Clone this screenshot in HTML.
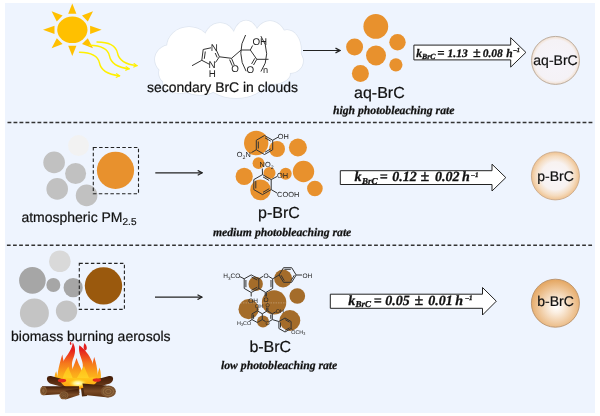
<!DOCTYPE html>
<html><head><meta charset="utf-8">
<style>
html,body{margin:0;padding:0;background:#fff;}
body{width:600px;height:416px;overflow:hidden;position:relative;font-family:"Liberation Sans",sans-serif;}
svg{position:absolute;left:0;top:0;text-rendering:geometricPrecision;will-change:transform;}
.s{font-family:"Liberation Sans",sans-serif;fill:#111;stroke:#111;stroke-width:0.2;}
.bi{font-family:"Liberation Serif",serif;font-weight:bold;font-style:italic;fill:#111;stroke:#111;stroke-width:0.25;}
.bk{font-family:"Liberation Serif",serif;font-weight:bold;font-style:italic;fill:#111;stroke:#111;stroke-width:0.3;}
.ch{font-family:"Liberation Sans",sans-serif;fill:#222;}
.bond{stroke:#333;stroke-width:1;fill:none;}
</style></head>
<body>
<svg width="600" height="416" viewBox="0 0 600 416">
<defs>
<radialGradient id="g1" cx="50%" cy="50%" r="50%">
<stop offset="0" stop-color="#f6f4fa"/><stop offset="0.86" stop-color="#f5f2f6"/><stop offset="0.95" stop-color="#f3e6dc"/><stop offset="1" stop-color="#ecd5c2"/>
</radialGradient>
<radialGradient id="g2" cx="50%" cy="50%" r="50%">
<stop offset="0" stop-color="#f8f6fb"/><stop offset="0.58" stop-color="#f8f2f0"/><stop offset="0.82" stop-color="#f5dcc0"/><stop offset="1" stop-color="#efc290"/>
</radialGradient>
<radialGradient id="g3" cx="52%" cy="57%" r="55%">
<stop offset="0" stop-color="#ffffff"/><stop offset="0.25" stop-color="#fbeee0"/><stop offset="1" stop-color="#e5a864"/>
</radialGradient>
<linearGradient id="flame3" x1="0" y1="0" x2="0" y2="1">
<stop offset="0" stop-color="#ffc81a"/><stop offset="1" stop-color="#ff9a10"/>
</linearGradient>
<radialGradient id="glow" cx="50%" cy="50%" r="50%">
<stop offset="0" stop-color="#fffce0"/><stop offset="0.45" stop-color="#fff07a"/><stop offset="1" stop-color="#ffd21a" stop-opacity="0"/>
</radialGradient>
<linearGradient id="flame" gradientUnits="userSpaceOnUse" x1="0" y1="386" x2="0" y2="342">
<stop offset="0" stop-color="#ffd21a"/><stop offset="0.28" stop-color="#fba81a"/><stop offset="0.52" stop-color="#f5771c"/><stop offset="0.68" stop-color="#ee461e"/><stop offset="0.82" stop-color="#e4201e"/><stop offset="1" stop-color="#e01c1c"/>
</linearGradient>
<linearGradient id="logd" x1="0" y1="0" x2="0" y2="1">
<stop offset="0" stop-color="#3e1a06"/><stop offset="0.6" stop-color="#5e3014"/><stop offset="1" stop-color="#6e3e1e"/>
</linearGradient>
<linearGradient id="logf" x1="0" y1="0" x2="0" y2="1">
<stop offset="0" stop-color="#3e1a06"/><stop offset="0.55" stop-color="#7a4a26"/><stop offset="1" stop-color="#5a3010"/>
</linearGradient>
<linearGradient id="flame2" gradientUnits="userSpaceOnUse" x1="0" y1="386" x2="0" y2="360">
<stop offset="0" stop-color="#ffe030"/><stop offset="0.6" stop-color="#ffc21a"/><stop offset="1" stop-color="#fca01a"/>
</linearGradient>
<filter id="cblur" x="-10%" y="-10%" width="120%" height="120%"><feGaussianBlur stdDeviation="0.7"/></filter>
<marker id="ah" viewBox="0 0 10 10" refX="9" refY="5" markerWidth="6" markerHeight="6.4" orient="auto" markerUnits="userSpaceOnUse">
<path d="M1.5,1 L9,5 L1.5,9" fill="none" stroke="#222" stroke-width="2"/>
</marker>
<marker id="yh" viewBox="0 0 10 10" refX="8" refY="5" markerWidth="5" markerHeight="5" orient="auto" markerUnits="userSpaceOnUse">
<path d="M1,1 L8,5 L1,9" fill="none" stroke="#fff000" stroke-width="2.2"/>
</marker>
</defs>

<!-- background panel -->
<rect x="5" y="3" width="590" height="410" fill="#eef4fe"/>

<!-- dashed separators -->
<line x1="7.5" y1="122.5" x2="593" y2="122.5" stroke="#333" stroke-width="1.5" stroke-dasharray="3.85 2.14"/>
<line x1="6.9" y1="245.25" x2="593" y2="245.25" stroke="#333" stroke-width="1.5" stroke-dasharray="3.75 2.37"/>

<!-- ============ SECTION 1 ============ -->
<!-- sun -->
<g fill="#ffc000">
<ellipse cx="72.35" cy="29.8" rx="15.15" ry="13.2"/>
<polygon points="72.3,3.6 76.4,13.8 68.2,13.8"/>
<polygon points="93.0,11.3 87.8,21.4 82.0,15.6"/>
<polygon points="101.6,29.8 90.1,33.9 90.1,25.7"/>
<polygon points="93.0,48.3 82.0,44.0 87.8,38.2"/>
<polygon points="72.3,56.0 68.2,45.8 76.4,45.8"/>
<polygon points="51.6,48.3 56.8,38.2 62.6,44.0"/>
<polygon points="43.0,29.8 54.5,25.7 54.5,33.9"/>
<polygon points="51.6,11.3 62.6,15.6 56.8,21.4"/>
</g>
<!-- light waves -->
<g fill="none" stroke="#fff000" stroke-width="1.4" stroke-linecap="round">
<path d="M97,42 C110,42 116,46 117.5,53 C119,61 126,64.5 137,65.6" marker-end="url(#yh)"/>
<path d="M89.5,45.3 C102,45.5 108,49 109.5,56 C111,64 118,67.5 129,68.8" marker-end="url(#yh)"/>
<path d="M79.5,52.3 C92,52.5 98,56 99.5,63 C101,71 108,74.5 119.5,75.8" marker-end="url(#yh)"/>
</g>

<!-- cloud -->
<g id="cloud">
<g fill="#dfe6f0" stroke="#dfe6f0" stroke-width="1.6" filter="url(#cblur)">
<ellipse cx="189" cy="47" rx="22" ry="20"/>
<ellipse cx="220" cy="44" rx="17" ry="21"/>
<ellipse cx="246" cy="43" rx="14" ry="22.5"/>
<ellipse cx="270" cy="43" rx="17" ry="22"/>
<ellipse cx="287" cy="50" rx="14" ry="20"/>
<ellipse cx="170.5" cy="59.5" rx="15.5" ry="14.5"/>
<ellipse cx="290" cy="61" rx="13" ry="12"/>
<ellipse cx="173.5" cy="73" rx="14.5" ry="12.5"/>
<ellipse cx="200" cy="80" rx="22" ry="15"/>
<ellipse cx="180" cy="83" rx="17" ry="10"/>
<ellipse cx="236" cy="80" rx="30" ry="18"/>
<ellipse cx="272" cy="74" rx="18" ry="10"/>
</g>
<g fill="#fff">
<ellipse cx="189" cy="47" rx="22" ry="20"/>
<ellipse cx="220" cy="44" rx="17" ry="21"/>
<ellipse cx="246" cy="43" rx="14" ry="22.5"/>
<ellipse cx="270" cy="43" rx="17" ry="22"/>
<ellipse cx="287" cy="50" rx="14" ry="20"/>
<ellipse cx="170.5" cy="59.5" rx="15.5" ry="14.5"/>
<ellipse cx="290" cy="61" rx="13" ry="12"/>
<ellipse cx="173.5" cy="73" rx="14.5" ry="12.5"/>
<ellipse cx="200" cy="80" rx="22" ry="15"/>
<ellipse cx="180" cy="83" rx="17" ry="10"/>
<ellipse cx="236" cy="80" rx="30" ry="18"/>
<ellipse cx="272" cy="74" rx="18" ry="10"/>
<ellipse cx="232" cy="60" rx="58" ry="24"/>
</g>
</g>

<!-- structure 1 -->
<g class="bond" stroke-width="1.1" stroke="#2a2a2a">
<path d="M203.2,49.5 L201.8,60.3"/>
<path d="M205.3,51.5 L204.3,58.8"/>
<path d="M203.2,49.5 L211,47.8"/>
<path d="M216.5,50.5 L219.4,56.8"/>
<path d="M215.2,53 L217.2,57.5"/>
<path d="M219.4,56.8 L215.5,62.5"/>
<path d="M201.8,60.3 L209.5,64.3"/>
<path d="M201.8,60.3 L192,65.7"/>
<path d="M219.4,56.8 L231.5,58.3 L241.1,50 L250.3,50 L256.8,59.3 L268.5,59.3"/>
<path d="M231.5,58.3 L234.3,65"/>
<path d="M229.6,59.6 L232.3,65.8"/>
<path d="M250.3,50 L252.6,45.5"/>
<path d="M256.8,59.3 L253.5,65"/>
<path d="M254.8,58.3 L251.6,63.9"/>
<path d="M245.6,35 A35 35 0 0 0 246.1,71.2"/>
<path d="M260.9,36.1 A30 30 0 0 1 260.9,71.5"/>
</g>
<g class="ch" font-size="9.8">
<text x="210.8" y="51">N</text>
<text x="208.6" y="68.4">N</text>
<text x="208.7" y="76.6">H</text>
<text x="231.3" y="72.1">O</text>
<text x="246.6" y="72.6">O</text>
<text x="252.5" y="44.6">OH</text>
<text x="262.9" y="72.6" font-size="9.2">n</text>
</g>

<text class="s" x="147" y="92.1" font-size="14" textLength="151" lengthAdjust="spacingAndGlyphs">secondary BrC in clouds</text>

<!-- arrow 1 -->
<line x1="303" y1="50.5" x2="340" y2="50.5" stroke="#222" stroke-width="1.2" marker-end="url(#ah)"/>

<!-- aq orange particles -->
<g fill="#e8912d">
<circle cx="375.8" cy="26.4" r="12.4"/>
<circle cx="354.6" cy="47" r="8.5"/>
<circle cx="376" cy="55.5" r="10"/>
<circle cx="397.5" cy="42.3" r="8.2"/>
<circle cx="395.9" cy="64.8" r="6.6"/>
<circle cx="360.4" cy="73.5" r="8.5"/>
</g>
<text class="s" x="354" y="97.6" font-size="16">aq-BrC</text>
<text class="bi" x="333" y="113.5" font-size="11.7">high photobleaching rate</text>

<!-- k arrow 1 -->
<path d="M413.9,45.1 L510.7,45.1 L510.7,37.7 L525.9,52.4 L510.7,67.1 L510.7,59.9 L413.9,59.9 Z" fill="#fff" stroke="#222" stroke-width="1"/>
<text class="bk" x="416.2" y="56.7" font-size="11.5">k</text>
<text class="bk" x="422.1" y="58.9" font-size="7.8">BrC</text>
<text class="bk" x="437.3" y="56.7" font-size="12.8">=</text>
<text class="bk" x="447.5" y="56.7" font-size="11.5">1.13</text>
<text class="bk" x="473" y="56.9" font-size="14" stroke-width="0.45">±</text>
<text class="bk" x="482.7" y="56.7" font-size="11.5">0.08</text>
<text class="bk" x="506.3" y="56.7" font-size="11.5">h</text>
<text class="bk" x="513.6" y="52.3" font-size="6.3">–</text>
<text class="bk" x="516.8" y="52.3" font-size="6.3">1</text>

<!-- aq-BrC circle -->
<circle cx="555.5" cy="60.4" r="24" fill="url(#g1)" stroke="#b8a898" stroke-width="0.9"/>
<text class="s" x="555.5" y="65.4" font-size="14" stroke-width="0.35" text-anchor="middle">aq-BrC</text>

<!-- ============ SECTION 2 ============ -->
<g>
<circle cx="78.5" cy="145.6" r="10.5" fill="#f2f2f2"/>
<circle cx="54.1" cy="162.4" r="10.8" fill="#c1c1c1"/>
<circle cx="75.6" cy="173.5" r="10.5" fill="#c1c1c1"/>
<circle cx="57.2" cy="188.9" r="10.8" fill="#c1c1c1"/>
<circle cx="86.6" cy="195.4" r="10.8" fill="#c1c1c1"/>
<circle cx="115.5" cy="170.3" r="18.6" fill="#e8912d"/>
<rect x="93.3" y="147.5" width="45.2" height="46.2" fill="none" stroke="#222" stroke-width="1.1" stroke-dasharray="3.5 2.3"/>
</g>
<text class="s" x="21.4" y="221.8" font-size="14">atmospheric PM<tspan font-size="10" dy="3">2.5</tspan></text>

<line x1="155.3" y1="172.8" x2="202.2" y2="172.8" stroke="#222" stroke-width="1.2" marker-end="url(#ah)"/>

<!-- p orange particles -->
<g fill="#e8912d">
<circle cx="256.2" cy="143" r="12.2"/>
<circle cx="277" cy="149" r="8"/>
<circle cx="297.9" cy="147.5" r="9"/>
<circle cx="258.5" cy="163.2" r="5.9"/>
<circle cx="269.5" cy="173" r="6"/>
<circle cx="285.7" cy="173.7" r="6"/>
<circle cx="244.2" cy="176.4" r="8.6"/>
<circle cx="303.5" cy="171.5" r="10.7"/>
<circle cx="260.5" cy="189.9" r="10.3"/>
<circle cx="314.9" cy="188.5" r="7.8"/>
</g>
<!-- structure 2 -->
<g class="bond">
<path d="M264.5,135.5 L272.7,140.25 L272.7,149.75 L264.5,154.5 L256.3,149.75 L256.3,140.25 Z"/>
<path d="M258.3,141.5 L258.3,148.5 M265,137.8 L270.7,141.1 M270.7,148.9 L265,152.2"/>
<path d="M272.7,140.25 L278,137.2"/>
<path d="M256.3,149.75 L251.5,152.5"/>
<path d="M262.5,174.6 L271.2,179.6 L271.2,189.6 L262.5,194.6 L253.8,189.6 L253.8,179.6 Z"/>
<path d="M255.8,180.8 L255.8,188.4 M263,176.9 L269.2,180.5 M269.2,188.7 L263,192.3"/>
<path d="M262.5,174.6 L262.3,168.5"/>
<path d="M271.2,179.6 L277,176.5"/>
<path d="M271.2,189.6 L277,193"/>
</g>
<g class="ch" font-size="7.4">
<text x="277.7" y="138.7">OH</text>
<text x="236.8" y="157.2">O<tspan font-size="5.2" dy="1.8">2</tspan><tspan dy="-1.8">N</tspan></text>
<text x="259.6" y="167.3">NO<tspan font-size="5.2" dy="1.8">2</tspan></text>
<text x="277.1" y="177.6">OH</text>
<text x="277.1" y="197.4">COOH</text>
</g>
<text class="s" x="258" y="218.3" font-size="16">p-BrC</text>
<text class="bi" x="213" y="235.6" font-size="11.7">medium photobleaching rate</text>

<!-- k arrow 2 -->
<path d="M340.3,170.7 L492,170.7 L492,164.2 L505.8,177.6 L492,191 L492,184.5 L340.3,184.5 Z" fill="#fff" stroke="#222" stroke-width="1"/>
<text class="bk" x="354.5" y="181.3" font-size="14">k</text>
<text class="bk" x="361.9" y="183.8" font-size="9">BrC</text>
<text class="bk" x="379.8" y="181.3" font-size="14">=</text>
<text class="bk" x="392.2" y="181.3" font-size="14">0.12</text>
<text class="bk" x="420.6" y="181.3" font-size="16" stroke-width="0.45">±</text>
<text class="bk" x="435" y="181.3" font-size="14">0.02</text>
<text class="bk" x="462" y="181.3" font-size="14">h</text>
<text class="bk" x="471.3" y="176.7" font-size="7">–</text>
<text class="bk" x="475" y="176.7" font-size="7">1</text>

<circle cx="555.4" cy="175.9" r="24" fill="url(#g2)" stroke="#c9a888" stroke-width="0.9"/>
<text class="s" x="555.6" y="181.2" font-size="14" stroke-width="0.35" text-anchor="middle">p-BrC</text>

<!-- ============ SECTION 3 ============ -->
<g>
<circle cx="59.85" cy="261.25" r="10.8" fill="#d9d9d9"/>
<circle cx="32.4" cy="280.4" r="13.3" fill="#a6a6a6"/>
<circle cx="53.35" cy="285.05" r="7" fill="#a6a6a6"/>
<circle cx="73.15" cy="287.65" r="9.6" fill="#a6a6a6"/>
<circle cx="34.4" cy="313" r="14.5" fill="#c4c4c4"/>
<circle cx="66.55" cy="311.1" r="10.7" fill="#c4c4c4"/>
<circle cx="103.5" cy="285.85" r="18.7" fill="#9a590d"/>
<rect x="79.3" y="263.4" width="45.1" height="46" fill="none" stroke="#222" stroke-width="1.1" stroke-dasharray="3.5 2.3"/>
</g>
<text class="s" x="11" y="340.9" font-size="14">biomass burning aerosols</text>

<line x1="155" y1="297.2" x2="202" y2="297.2" stroke="#222" stroke-width="1.2" marker-end="url(#ah)"/>

<!-- b brown particles -->
<g fill="#9a590d" fill-opacity="0.88">
<circle cx="283.1" cy="278.5" r="9"/>
<circle cx="255.7" cy="283.9" r="7.2"/>
<circle cx="274.1" cy="302.4" r="12.2"/>
<circle cx="297.3" cy="296" r="7.85"/>
<circle cx="248.6" cy="309.2" r="10.1"/>
<circle cx="263" cy="321.4" r="6"/>
<circle cx="289.9" cy="320.5" r="10.4"/>
</g>
<!-- structure 3 -->
<g class="bond" stroke-width="0.75">
<path d="M251.2,274.9 L258.8,278.8 L258.8,288.4 L251.2,292.5 L244.2,288.4 L244.2,278.8 Z"/>
<path d="M245.9,280 L245.9,287.2 M251.5,277 L257.2,280 M257.2,287.2 L251.5,290.3"/>
<path d="M258.8,278.8 L263.3,276.2 M268.3,276.2 L272.7,278.8 L272.7,288.4 L265.8,292.5 L258.8,288.4"/>
<path d="M271,280 L271,287.2"/>
<path d="M265.2,292.5 L265.2,296.5 M266.4,292.5 L266.4,296.5"/>
<path d="M272.7,278.8 L279.1,275"/>
<path d="M279.1,275 L283.5,267.7 L291.7,267.7 L296.2,275 L291.7,282.3 L283.5,282.3 Z"/>
<path d="M284.4,269.3 L290.8,269.3 M281,275.2 L284.3,280.7 M294.3,275.2 L291,280.7"/>
<path d="M296.2,275 L302,275"/>
<path d="M244.2,278.8 L239.8,276.6"/>
<path d="M251.2,292.5 L251.2,296.5"/>
<path d="M252,313.8 L257.3,310.8 L262.3,313.8 L262.3,319.6 L257.3,322.5 L252,319.6 Z"/>
<path d="M253.6,314.6 L253.6,318.8"/>
<path d="M262.3,313.8 L267.3,310.8 L272.3,313.8 L272.3,319.6 L269,321.6 M265.6,321.6 L262.3,319.6"/>
<path d="M270.8,314.6 L270.8,318.8"/>
<path d="M257.3,310.8 L257.3,308"/>
<path d="M266.7,310.8 L266.7,307.5 M267.9,310.8 L267.9,307.5"/>
<path d="M272.3,313.8 L275.8,311.8"/>
<path d="M252,319.6 L249.5,321"/>
<path d="M272.3,319.6 L278.9,321.5"/>
<path d="M285,318 L291.1,321.5 L291.1,328.5 L285,332 L278.9,328.5 L278.9,321.5 Z"/>
<path d="M280.5,322.5 L280.5,327.5 M285.3,319.7 L289.6,322.2 M289.6,327.8 L285.3,330.3"/>
<path d="M291.1,328.5 L292.5,329.8"/>
</g>
<g class="ch" font-size="6.5">
<text x="223.3" y="278">H<tspan font-size="4.5" dy="1.5">3</tspan><tspan dy="-1.5">CO</tspan></text>
<text x="263.4" y="277.8">O</text>
<text x="302.5" y="277.6">OH</text>
<text x="248.2" y="302.6">OH</text>
<text x="263.4" y="302">O</text>
</g>
<g class="ch" font-size="5.4">
<text x="255" y="307.7">OH</text>
<text x="265.4" y="307.2">O</text>
<text x="275.8" y="313.2">OH</text>
<text x="237" y="325">H<tspan font-size="3.8" dy="1.2">3</tspan><tspan dy="-1.2">CO</tspan></text>
<text x="265.4" y="325">O</text>
<text x="291.2" y="334.2">OCH<tspan font-size="3.8" dy="1.2">3</tspan></text>
</g>
<line x1="238" y1="302.9" x2="291" y2="302.9" stroke="#fff" stroke-opacity="0.35" stroke-width="0.8" stroke-dasharray="1.5 1"/>
<text class="s" x="249.4" y="351.6" font-size="16">b-BrC</text>
<text class="bi" x="221" y="368.5" font-size="11.7">low photobleaching rate</text>

<!-- k arrow 3 -->
<path d="M330.3,294.2 L482.5,294.2 L482.5,287.5 L496.3,301.2 L482.5,315 L482.5,308.3 L330.3,308.3 Z" fill="#fff" stroke="#222" stroke-width="1"/>
<text class="bk" x="348.3" y="304.8" font-size="14">k</text>
<text class="bk" x="355.5" y="307.3" font-size="9">BrC</text>
<text class="bk" x="373.75" y="304.8" font-size="14">=</text>
<text class="bk" x="385.25" y="304.8" font-size="14">0.05</text>
<text class="bk" x="414.4" y="304.8" font-size="16" stroke-width="0.45">±</text>
<text class="bk" x="428.3" y="304.8" font-size="14">0.01</text>
<text class="bk" x="455.3" y="304.8" font-size="14">h</text>
<text class="bk" x="465.6" y="300.2" font-size="7">–</text>
<text class="bk" x="468.9" y="300.2" font-size="7">1</text>

<circle cx="555.4" cy="303.2" r="24" fill="url(#g3)" stroke="#b8916a" stroke-width="0.9"/>
<text class="s" x="555.6" y="305.6" font-size="14" stroke-width="0.35" text-anchor="middle">b-BrC</text>

<!-- fire -->
<g id="fire">
<!-- flames -->
<g fill="url(#flame)">
<path d="M57.5,384 C56.5,376 58.5,367 62.3,354.5 C63.5,362 66,369 68,384 Z"/>
<path d="M54.6,383 C53.8,378.5 54.6,374.5 56.2,371.2 C56.8,375 58.8,378.5 60,383 Z"/>
<path d="M88,384 C89.5,373 92,366 94.2,357 C96.5,364 98.5,372 97.5,384 Z"/>
<path d="M95,383 C96.5,377 98,372.5 99.5,367.6 C101,372 101.5,378 100.5,383 Z"/>
<path d="M84.6,343 C83.2,346 83.2,349.6 85.3,350.6 C87.5,349.6 87.2,346 84.6,343 Z"/>
<path d="M70.4,341.5 C69.5,343 69.6,344.6 70.8,345 C71.8,344.4 71.6,343 70.4,341.5 Z"/>
<path d="M63,384 C58.5,377 59,368 63.5,361 C67,355 72,350 72.8,342.6 C75.5,347 75.8,352.5 73.6,357.5 C71.5,362.5 71,367 74.5,373 C77.5,378 78.5,381 77.5,384 Z"/>
<path d="M73,384 C79,377 83.5,371 82.8,364.5 C82.2,358.5 77.8,353 79.3,345.2 C84.5,349 89.5,355 92,361.5 C94.5,368.5 94.5,376 91,384 Z"/>
</g>
<path d="M67,384 C69,376 73,369 76.5,358 C79,366 84,373 87,384 Z" fill="url(#flame)"/>
<path d="M62.5,384 C62,377 65,371 68.5,366.5 C69.5,372 72.5,376 75,384 Z" fill="url(#flame2)"/>
<path d="M74,384 C77,377 80.5,372 84,366 C86,372 89.5,377 91,384 Z" fill="url(#flame2)"/>
<!-- back logs -->
<path d="M47.5,376.8 Q49,375.6 51,376 L70.5,381.2 L72,387.6 L66,388 L50,383.6 Q45.5,380.6 47.5,376.8 Z" fill="url(#logd)"/>
<path d="M112.5,376.8 Q111,375.6 109,376 L89.5,381.2 L88,387.6 L94,388 L110,383.6 Q114.5,380.6 112.5,376.8 Z" fill="url(#logd)"/>
<path d="M59.5,379.5 C63,377 67,377.5 70,378 L86,378 C91,377.5 95,377 98.5,379 C95.5,386 88,389.5 78,389.5 C68,389.5 62,386 59.5,379.5 Z" fill="url(#flame3)"/>
<ellipse cx="62" cy="380.6" rx="4.2" ry="1.8" fill="#e42a1c"/>
<ellipse cx="96.8" cy="380" rx="4.2" ry="1.8" fill="#e42a1c"/>
<ellipse cx="78" cy="383.3" rx="9.5" ry="4.6" fill="url(#glow)"/>
<!-- front logs -->
<path d="M42,386.3 L79,386.2 L79.5,393 L43.5,395.2 Z" fill="url(#logf)"/>
<ellipse cx="43.4" cy="390.8" rx="3.3" ry="4.4" fill="#8a6038"/>
<ellipse cx="43.4" cy="390.8" rx="1.9" ry="2.6" fill="none" stroke="#5e3a1c" stroke-width="0.6"/>
<path d="M62,391.2 L78.5,388.8 L79.5,395 L65.5,399.6 Z" fill="url(#logf)"/>
<ellipse cx="63.9" cy="395.3" rx="4.5" ry="4" fill="#8a6038"/>
<ellipse cx="63.9" cy="395.3" rx="3" ry="2.6" fill="none" stroke="#5e3a1c" stroke-width="0.6"/>
<ellipse cx="63.9" cy="395.3" rx="1.4" ry="1.2" fill="none" stroke="#5e3a1c" stroke-width="0.5"/>
<path d="M81,388.3 L86,387.6 L87,396 L82,396.6 Z" fill="#4e2a10"/>
<path d="M82.5,383.4 L106.5,385.6 L108.5,397.4 L84.5,395 Z" fill="url(#logf)"/>
<ellipse cx="108.3" cy="391.5" rx="7.6" ry="6" fill="#7a5230"/>
<ellipse cx="108.3" cy="391.5" rx="5.2" ry="4.1" fill="none" stroke="#a07848" stroke-width="0.7"/>
<ellipse cx="108.3" cy="391.5" rx="2.7" ry="2.1" fill="none" stroke="#a07848" stroke-width="0.7"/>
</g>

</svg>
</body></html>
